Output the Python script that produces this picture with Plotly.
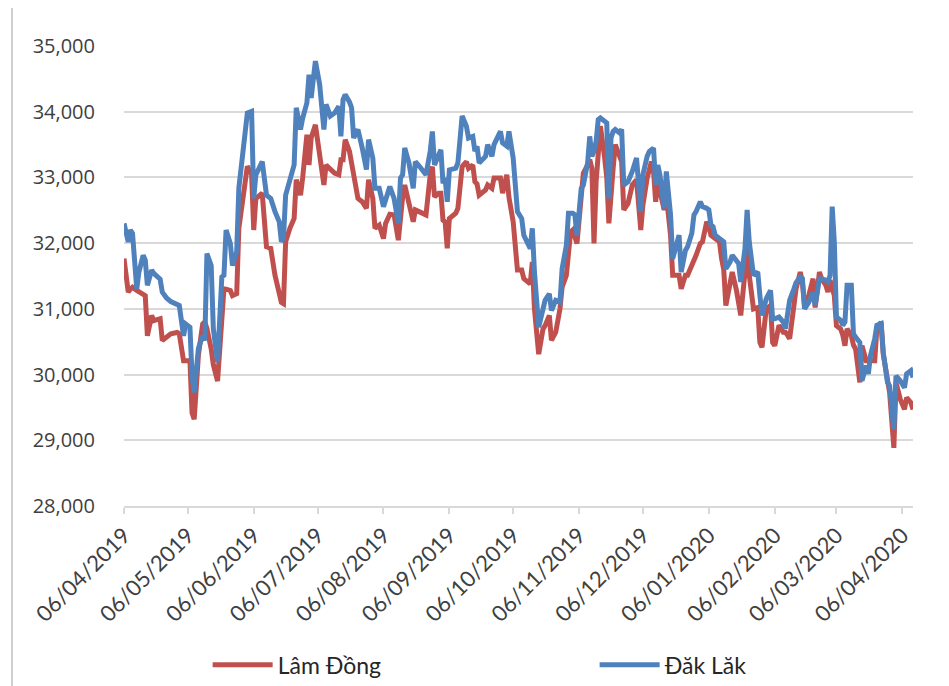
import plotly.graph_objects as go

dates = [
"2019-04-06","2019-04-08","2019-04-09","2019-04-10","2019-04-12","2019-04-13","2019-04-15","2019-04-16","2019-04-17","2019-04-19",
"2019-04-20","2019-04-23","2019-04-24","2019-04-26","2019-04-28","2019-05-01","2019-05-02","2019-05-04","2019-05-05","2019-05-07",
"2019-05-08","2019-05-09","2019-05-11","2019-05-13","2019-05-14","2019-05-15","2019-05-17","2019-05-18","2019-05-20","2019-05-22",
"2019-05-23","2019-05-24","2019-05-26","2019-05-27","2019-05-29","2019-05-30","2019-06-01","2019-06-03","2019-06-05","2019-06-06",
"2019-06-07","2019-06-10","2019-06-12","2019-06-14","2019-06-16","2019-06-18","2019-06-19","2019-06-20","2019-06-21","2019-06-23",
"2019-06-25","2019-06-26","2019-06-28","2019-06-29","2019-07-01","2019-07-02","2019-07-03","2019-07-05","2019-07-07","2019-07-09",
"2019-07-10","2019-07-12","2019-07-14","2019-07-16","2019-07-17","2019-07-18","2019-07-19","2019-07-21","2019-07-22","2019-07-23",
"2019-07-25","2019-07-27","2019-07-29","2019-07-30","2019-08-01","2019-08-02","2019-08-04","2019-08-06","2019-08-07","2019-08-09",
"2019-08-11","2019-08-13","2019-08-14","2019-08-15","2019-08-16","2019-08-18","2019-08-20","2019-08-21","2019-08-23","2019-08-26",
"2019-08-28","2019-08-29","2019-08-30","2019-09-01","2019-09-02","2019-09-03","2019-09-04","2019-09-05","2019-09-06","2019-09-09",
"2019-09-10","2019-09-12","2019-09-14","2019-09-15","2019-09-17","2019-09-18","2019-09-19","2019-09-20","2019-09-23","2019-09-24",
"2019-09-26","2019-09-27","2019-09-29","2019-09-30","2019-10-01","2019-10-03","2019-10-04","2019-10-06","2019-10-08","2019-10-10",
"2019-10-11","2019-10-13","2019-10-14","2019-10-15","2019-10-16","2019-10-18","2019-10-19","2019-10-20","2019-10-21","2019-10-23",
"2019-10-24","2019-10-26","2019-10-28","2019-10-29","2019-10-31","2019-11-01","2019-11-02","2019-11-03","2019-11-04","2019-11-05",
"2019-11-07","2019-11-08","2019-11-10","2019-11-11","2019-11-12","2019-11-13","2019-11-14","2019-11-15","2019-11-16","2019-11-18",
"2019-11-19","2019-11-20","2019-11-21","2019-11-22","2019-11-23","2019-11-25","2019-11-26","2019-11-27","2019-11-29","2019-12-01",
"2019-12-03","2019-12-05","2019-12-06","2019-12-08","2019-12-09","2019-12-10","2019-12-11","2019-12-12","2019-12-13","2019-12-14",
"2019-12-16","2019-12-17","2019-12-19","2019-12-20","2019-12-22","2019-12-23","2019-12-24","2019-12-26","2019-12-27","2019-12-29",
"2019-12-30","2019-12-31","2020-01-02","2020-01-03","2020-01-05","2020-01-06","2020-01-07","2020-01-08","2020-01-09","2020-01-11",
"2020-01-12","2020-01-13","2020-01-14","2020-01-16","2020-01-17","2020-01-19","2020-01-20","2020-01-21","2020-01-23","2020-01-24",
"2020-01-25","2020-01-27","2020-01-29","2020-01-30","2020-01-31","2020-02-02","2020-02-04","2020-02-05","2020-02-06","2020-02-08",
"2020-02-10","2020-02-11","2020-02-12","2020-02-13","2020-02-15","2020-02-16","2020-02-18","2020-02-19","2020-02-20","2020-02-22",
"2020-02-24","2020-02-25","2020-02-27","2020-02-28","2020-03-01","2020-03-02","2020-03-03","2020-03-04","2020-03-05","2020-03-06",
"2020-03-08","2020-03-09","2020-03-10","2020-03-11","2020-03-13","2020-03-14","2020-03-15","2020-03-17","2020-03-18","2020-03-20",
"2020-03-21","2020-03-22","2020-03-24","2020-03-25","2020-03-27","2020-03-28","2020-03-30","2020-03-31","2020-04-02","2020-04-03",
"2020-04-05","2020-04-07","2020-04-08","2020-04-10","2020-04-11",
]

dak_lak = [
32300,32020,32200,32150,31300,31560,31815,31740,31360,31590,
31540,31450,31255,31165,31110,31075,31050,30590,30770,30720,
29980,29727,30400,30590,30520,31840,31660,30700,30190,31485,
31510,32200,31995,31660,31870,32835,33345,33980,34005,32680,
33040,33240,32730,32680,32480,32325,32020,32080,32730,32935,
33190,34060,33730,33900,34135,34565,34210,34770,34415,33730,
34110,33935,33980,34080,33625,34185,34260,34150,34060,33600,
33730,33450,33120,33575,33295,32835,32835,32555,32680,32860,
32680,32300,32990,33040,33450,33220,32835,33240,33165,33040,
33400,33700,33190,33345,33420,32910,32990,32630,33115,33140,
33220,33935,33780,33600,33625,33400,33475,33220,33320,33500,
33320,33500,33650,33700,33525,33475,33700,33295,32480,32375,
32120,31995,31920,32225,31560,30720,30875,31000,31130,31230,
30975,31130,31100,31610,31965,32455,32455,32455,32430,32120,
32835,32885,33220,33625,33320,33400,33550,33880,33905,33850,
33830,32680,33600,33700,33730,33680,33730,32885,32935,33090,
33295,32480,33040,33320,33395,33420,33445,32885,33190,33040,
32530,33090,32430,31765,31965,32120,31560,31890,31945,32150,
32430,32480,32630,32555,32530,32505,32275,32250,32120,32070,
32040,32020,31610,31715,31815,31740,31690,31410,31920,32505,
32020,31510,31560,31205,30900,31155,31280,30850,30850,30875,
30800,30700,30900,31130,31305,31400,31485,31460,31000,31100,
31255,31050,31460,31460,31435,31410,31510,32555,32020,30875,
30825,30750,30800,31360,31360,30620,30570,30490,29905,30135,
30010,30290,30545,30750,30775,30340,29880,29830,29165,29980,
29905,29800,30010,30060,29955,
]

lam_dong = [
31765,31255,31300,31330,31280,31260,31220,31200,30590,30900,
30820,30850,30520,30560,30620,30640,30620,30210,30210,30210,
29420,29320,30300,30770,30800,30700,30390,30150,29900,30875,
31305,31300,31280,31200,31230,32225,32700,33170,33050,32200,
32680,32760,31945,31920,31510,31205,31100,31080,32020,32225,
32375,32965,32730,32990,33650,33190,33600,33800,33395,32885,
33190,33115,33065,33040,33270,33270,33575,33400,33200,32990,
32680,32630,32530,32965,32680,32225,32275,32070,32300,32440,
32430,32045,32480,32700,32885,32630,32325,32505,32480,32430,
33040,33165,32705,32760,32760,32350,32325,31920,32375,32455,
32530,33165,33240,33140,33190,32935,32900,32730,32810,32885,
32835,32990,32990,32990,32760,33040,32700,32325,31590,31590,
31460,31400,31380,31715,31000,30310,30500,30690,30745,30900,
30520,30645,31000,31330,31510,31900,32170,32200,32100,31995,
32710,33065,33190,33270,33140,31995,32935,33500,33780,33300,
33000,32300,32800,33140,33500,33345,33240,32505,32605,32885,
32965,32200,32580,32990,33100,33240,33100,32630,32935,32800,
32505,32730,32120,31510,31510,31510,31305,31510,31510,31650,
31765,31815,31995,32020,32325,32250,32120,32100,32070,32020,
31765,31600,31050,31360,31560,31280,31100,30900,31560,31945,
31510,31000,31020,30490,30415,31000,31050,30490,30440,30750,
30645,30645,30600,30545,31050,31305,31560,31400,31050,31205,
31460,31020,31560,31460,31360,31255,31435,31300,31200,30745,
30695,30600,30440,30695,30590,30450,30390,29880,30440,30210,
30210,30210,30210,30695,30800,30315,29855,29725,28885,29880,
29625,29470,29650,29575,29470,
]

tick_dates = ["2019-04-06","2019-05-06","2019-06-06","2019-07-06","2019-08-06","2019-09-06",
              "2019-10-06","2019-11-06","2019-12-06","2020-01-06","2020-02-06","2020-03-06","2020-04-06"]
tick_labels = ["06/04/2019","06/05/2019","06/06/2019","06/07/2019","06/08/2019","06/09/2019",
               "06/10/2019","06/11/2019","06/12/2019","06/01/2020","06/02/2020","06/03/2020","06/04/2020"]

fig = go.Figure()
fig.add_trace(go.Scatter(x=dates, y=lam_dong, mode="lines", name="Lâm Đồng",
                         line=dict(color="#C0504D", width=5)))
fig.add_trace(go.Scatter(x=dates, y=dak_lak, mode="lines", name="Đăk Lăk",
                         line=dict(color="#4F81BD", width=5)))

fig.update_layout(
    width=949, height=686,
    margin=dict(l=116, r=44, t=38, b=188, autoexpand=False),
    paper_bgcolor="white", plot_bgcolor="white",
    showlegend=True,
    legend=dict(orientation="h", x=0.106, xanchor="left", y=-0.345, yanchor="middle",
                font=dict(family="Lato", size=23, color="#262626"),
                entrywidth=312, entrywidthmode="pixels", itemwidth=60),
    shapes=[dict(type="line", xref="paper", yref="paper",
                 x0=-112/789, x1=-112/789, y0=-1, y1=1.2,
                 line=dict(color="#CFCFCF", width=2))],
)
fig.update_xaxes(
    type="date", range=["2019-04-06", "2020-04-11"], automargin=False,
    tickmode="array", tickvals=tick_dates, ticktext=tick_labels,
    tickangle=-45, tickfont=dict(family="Lato", size=22, color="#404040"),
    showgrid=False, showline=True, linecolor="#D9D9D9", linewidth=1.5,
    ticks="outside", ticklen=6, tickcolor="#D9D9D9", tickwidth=1.5,
    zeroline=False,
)
fig.update_yaxes(
    range=[28000, 35000], dtick=1000, tickformat=",", automargin=False,
    tickfont=dict(family="Open Sans", size=20, color="#404040"),
    showgrid=True, gridcolor="#D9D9D9", gridwidth=1.5,
    showline=False, zeroline=False, ticks="", ticklabelstandoff=28,
)

fig.write_html("out.html")
